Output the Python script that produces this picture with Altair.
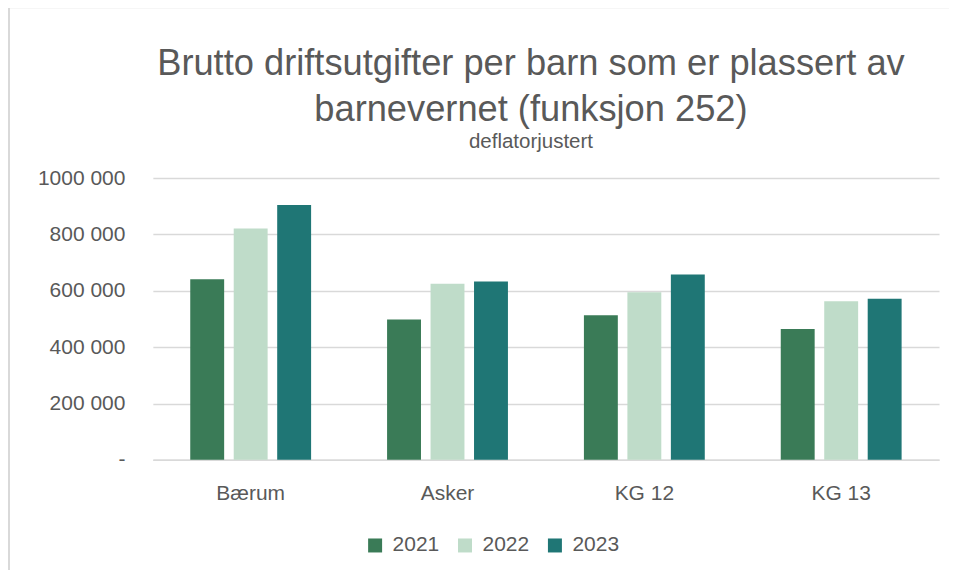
import altair as alt
import pandas as pd

categories = ["Bærum", "Asker", "KG 12", "KG 13"]
years = ["2021", "2022", "2023"]
v2021 = [641000, 498000, 513000, 464000]
v2022 = [821000, 625000, 595000, 563000]
v2023 = [905000, 633000, 658000, 572000]
colors = ["#3a7b57", "#bfdcc9", "#1f7675"]
y_ticks = [0, 200000, 400000, 600000, 800000, 1000000]

rows = []
for yr, vals in zip(years, [v2021, v2022, v2023]):
    for c, v in zip(categories, vals):
        rows.append({"Kommune": c, "År": yr, "Verdi": v})
df = pd.DataFrame(rows)

FONT = "Liberation Sans"
TXT = "#595959"
GRID = "#d9d9d9"

bars = alt.Chart(df).mark_bar().encode(
    x=alt.X("Kommune:N", sort=categories,
            scale=alt.Scale(paddingInner=0.386, paddingOuter=0.19),
            axis=alt.Axis(title=None, labelAngle=0, ticks=False, domain=True,
                          domainColor=GRID, domainWidth=1.5,
                          labelFontSize=21, labelColor=TXT, labelFont=FONT,
                          labelPadding=23)),
    xOffset=alt.XOffset("År:N", sort=years,
                        scale=alt.Scale(paddingInner=0.22, paddingOuter=0)),
    y=alt.Y("Verdi:Q", scale=alt.Scale(domain=[0, 1000000], nice=False),
            axis=alt.Axis(title=None, values=y_ticks, domain=False, ticks=False,
                          grid=True, gridColor=GRID, gridWidth=1.5,
                          labelFontSize=21, labelColor=TXT, labelFont=FONT,
                          labelPadding=28,
                          labelExpr="datum.value == 0 ? '-\u00a0\u00a0\u00a0\u00a0' : toString(floor(datum.value/1000)) + ' 000'")),
    color=alt.Color("År:N", sort=years,
                    scale=alt.Scale(domain=years, range=colors),
                    legend=alt.Legend(title=None, orient="none", direction="horizontal",
                                      legendX=212, legendY=357,
                                      symbolType="square", symbolSize=196,
                                      symbolStrokeWidth=0, symbolOpacity=1,
                                      labelFontSize=21, labelColor=TXT, labelFont=FONT,
                                      labelOffset=7, columnPadding=15)),
)

frame_df = pd.DataFrame({"k": [0]})
frame = alt.Chart(frame_df).mark_rect(fill="transparent", stroke=GRID, strokeWidth=2).encode(
    x=alt.value(-144), x2=alt.value(830), y=alt.value(-171), y2=alt.value(440)
)

chart = alt.layer(frame, bars).properties(
    width=787, height=282,
    title=alt.Title(
        text=["Brutto driftsutgifter per barn som er plassert av", "barnevernet (funksjon 252)"],
        subtitle="deflatorjustert",
        anchor="middle", frame="group", dx=-15, offset=-146,
        font=FONT, fontSize=36.3, fontWeight="normal", color=TXT, lineHeight=46,
        subtitleFont=FONT, subtitleFontSize=20.5, subtitleColor=TXT, subtitlePadding=3,
    ),
    autosize=alt.AutoSizeParams(type="none"),
    padding={"left": 145, "top": 170, "right": 10, "bottom": 110},
).configure_view(stroke=None)

chart.save("out.html", embed_options={"renderer": "svg", "actions": False})
